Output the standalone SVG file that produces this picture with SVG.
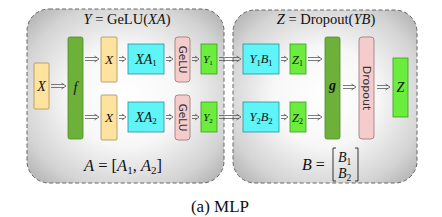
<svg xmlns="http://www.w3.org/2000/svg" width="442" height="217" viewBox="0 0 442 217">
<defs>
<radialGradient id="pg" cx="50%" cy="50%" r="72%">
<stop offset="0" stop-color="#ffffff"/>
<stop offset="0.4" stop-color="#f7f7f7"/>
<stop offset="0.75" stop-color="#d4d4d4"/>
<stop offset="1" stop-color="#a8a8a8"/>
</radialGradient>
<style>
.panel{fill:url(#pg);stroke:#666;stroke-width:1;stroke-dasharray:4,2.5}
.yel{fill:#fde39e;stroke:#a8925a;stroke-width:0.8}
.dg{fill:#6db13a;stroke:#4a8a26;stroke-width:0.8}
.cy{fill:#5ef4f8;stroke:#2b8f9c;stroke-width:0.8}
.pk{fill:#f5cccc;stroke:#9a7474;stroke-width:0.8}
.lg{fill:#6cec3c;stroke:#3f9a22;stroke-width:0.8}
.ar{fill:none;stroke:#444;stroke-width:0.7}
.m{font-family:"Liberation Serif",serif;font-style:italic;fill:#111}
.r{font-family:"Liberation Serif",serif;font-style:normal;fill:#111}
.s{font-family:"DejaVu Sans","Liberation Sans",sans-serif;fill:#333}
</style>
</defs>
<g id="panel-left"><rect class="panel" x="27" y="9" width="197" height="174" rx="22"/>
<text class="r" x="127" y="24" font-size="14.5" text-anchor="middle"><tspan class="m">Y</tspan> = GeLU(<tspan class="m">XA</tspan>)</text>
<text class="r" x="123" y="171" font-size="16.5" text-anchor="middle"><tspan class="m">A</tspan> = [<tspan class="m">A</tspan><tspan font-size="11" dy="3">1</tspan><tspan dy="-3">, </tspan><tspan class="m">A</tspan><tspan font-size="11" dy="3">2</tspan><tspan dy="-3">]</tspan></text>
</g>
<g id="panel-right"><rect class="panel" x="233" y="10" width="184" height="173" rx="22"/>
<text class="r" x="326" y="24" font-size="14.5" text-anchor="middle"><tspan class="m">Z</tspan> = Dropout(<tspan class="m">YB</tspan>)</text>
<text class="r" x="302" y="170" font-size="16"><tspan class="m">B</tspan> =</text>
<path d="M336,148 h-3 v33 h3 M355,148 h3 v33 h-3" fill="none" stroke="#222" stroke-width="0.9"/>
<text class="m" x="338" y="162" font-size="14">B<tspan class="r" font-size="9.5" dy="3">1</tspan></text>
<text class="m" x="338" y="178" font-size="14">B<tspan class="r" font-size="9.5" dy="3">2</tspan></text>
</g>
<g id="connectors">
<path class="ar" d="M51,84.5 H64 M51,87.5 H64 M61.5,83 L66,86 L61.5,89"/>
<path class="ar" d="M85,57.5 H97 M85,60.5 H97 M94.5,56 L99,59 L94.5,62"/>
<path class="ar" d="M85,115.5 H97 M85,118.5 H97 M94.5,114 L99,117 L94.5,120"/>
<path class="ar" d="M119,57.5 H124 M119,60.5 H124 M122,56 L126,59 L122,62"/>
<path class="ar" d="M119,115.5 H124 M119,118.5 H124 M122,114 L126,117 L122,120"/>
<path class="ar" d="M166,57.5 H171 M166,60.5 H171 M169,56 L173,59 L169,62"/>
<path class="ar" d="M166,115.5 H171 M166,118.5 H171 M169,114 L173,117 L169,120"/>
<path class="ar" d="M192,57.5 H197 M192,60.5 H197 M195,56 L199,59 L195,62"/>
<path class="ar" d="M192,115.5 H197 M192,118.5 H197 M195,114 L199,117 L195,120"/>
<path class="ar" d="M219,57.5 H239 M219,60.5 H239 M236.5,56 L241,59 L236.5,62"/>
<path class="ar" d="M219,115.5 H239 M219,118.5 H239 M236.5,114 L241,117 L236.5,120"/>
<path class="ar" d="M281,57.5 H286 M281,60.5 H286 M284,56 L288,59 L284,62"/>
<path class="ar" d="M281,115.5 H286 M281,118.5 H286 M284,114 L288,117 L284,120"/>
<path class="ar" d="M308,57.5 H320 M308,60.5 H320 M317.5,56 L322,59 L317.5,62"/>
<path class="ar" d="M308,115.5 H320 M308,118.5 H320 M317.5,114 L322,117 L317.5,120"/>
<path class="ar" d="M343,85.5 H354 M343,88.5 H354 M351.5,84 L356,87 L351.5,90"/>
<path class="ar" d="M377,85.5 H388 M377,88.5 H388 M385.5,84 L390,87 L385.5,90"/>
</g>
<g id="x-in"><rect class="yel" x="34" y="63" width="15" height="46" rx="1"/><text class="m" x="41.5" y="91" font-size="14" text-anchor="middle">X</text></g>
<g id="f"><rect class="dg" x="68" y="37" width="15" height="102" rx="2"/><text class="m" x="75.5" y="92" font-size="14" text-anchor="middle">f</text></g>
<g id="x-top"><rect class="yel" x="101" y="37" width="16" height="45" rx="1"/><text class="m" x="109" y="64" font-size="13.5" text-anchor="middle">X</text></g>
<g id="x-bot"><rect class="yel" x="101" y="95" width="16" height="45" rx="1"/><text class="m" x="109" y="122" font-size="13.5" text-anchor="middle">X</text></g>
<g id="xa1"><rect class="cy" x="128" y="44" width="36" height="30"/><text class="m" x="146" y="63.5" font-size="14" text-anchor="middle">XA<tspan class="r" font-size="9" dy="2.5">1</tspan></text></g>
<g id="xa2"><rect class="cy" x="128" y="102" width="36" height="30"/><text class="m" x="146" y="121.5" font-size="14" text-anchor="middle">XA<tspan class="r" font-size="9" dy="2.5">2</tspan></text></g>
<g id="gelu1"><rect class="pk" x="175" y="37" width="15" height="45" rx="3"/><text class="s" font-size="10.5" text-anchor="middle" transform="translate(179,59.5) rotate(90)">GeLU</text></g>
<g id="gelu2"><rect class="pk" x="175" y="95" width="15" height="45" rx="3"/><text class="s" font-size="10.5" text-anchor="middle" transform="translate(179,117.5) rotate(90)">GeLU</text></g>
<g id="y1"><rect class="lg" x="201" y="44" width="16" height="30"/><text class="m" x="208" y="62.5" font-size="11" text-anchor="middle">Y<tspan class="r" font-size="7" dy="2">1</tspan></text></g>
<g id="y2"><rect class="lg" x="201" y="102" width="16" height="30"/><text class="m" x="208" y="120.5" font-size="11" text-anchor="middle">Y<tspan class="r" font-size="7" dy="2">2</tspan></text></g>
<g id="y1b1"><rect class="cy" x="243" y="44" width="36" height="30"/><text class="m" x="261" y="63" font-size="12.5" text-anchor="middle">Y<tspan class="r" font-size="8.5" dy="2.5">1</tspan><tspan dy="-2.5">B</tspan><tspan class="r" font-size="8.5" dy="2.5">1</tspan></text></g>
<g id="y2b2"><rect class="cy" x="243" y="102" width="36" height="30"/><text class="m" x="261" y="121" font-size="12.5" text-anchor="middle">Y<tspan class="r" font-size="8.5" dy="2.5">2</tspan><tspan dy="-2.5">B</tspan><tspan class="r" font-size="8.5" dy="2.5">2</tspan></text></g>
<g id="z1"><rect class="lg" x="290" y="44" width="16" height="30"/><text class="m" x="297.5" y="63.5" font-size="12.5" text-anchor="middle">Z<tspan class="r" font-size="8" dy="2">1</tspan></text></g>
<g id="z2"><rect class="lg" x="290" y="102" width="16" height="30"/><text class="m" x="297.5" y="121.5" font-size="12.5" text-anchor="middle">Z<tspan class="r" font-size="8" dy="2">2</tspan></text></g>
<g id="g"><rect class="dg" x="325" y="37" width="15" height="102" rx="2"/><text class="m" x="332.5" y="90" font-size="14" font-weight="bold" text-anchor="middle">g</text></g>
<g id="dropout"><rect class="pk" x="359" y="37" width="15" height="102" rx="3"/><text class="s" font-size="11" text-anchor="middle" transform="translate(362.8,88) rotate(90)">Dropout</text></g>
<g id="z"><rect class="lg" x="393" y="58" width="15" height="59"/><text class="m" x="400.5" y="92" font-size="14" text-anchor="middle">Z</text></g>
<text class="r" x="220" y="212" font-size="17" text-anchor="middle">(a) MLP</text>
</svg>
